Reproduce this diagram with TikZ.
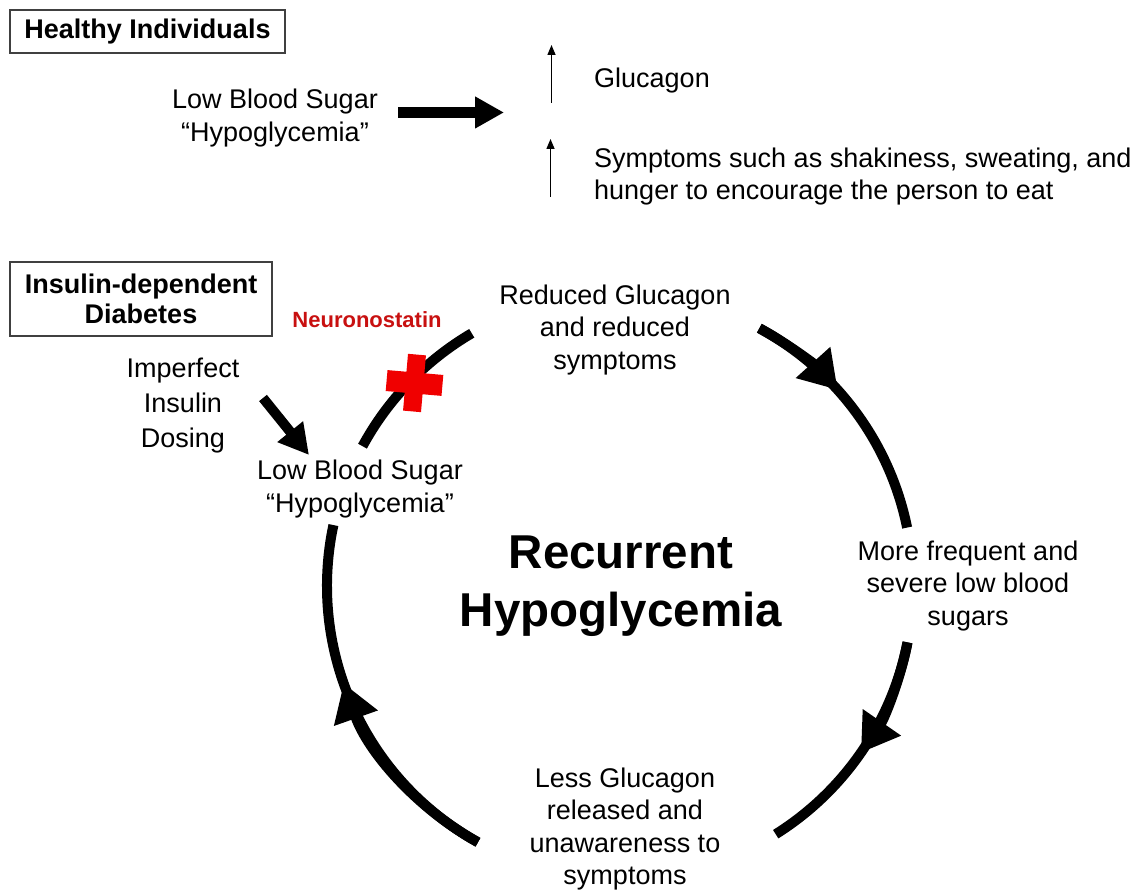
\documentclass[tikz,border=0pt]{standalone}
\usepackage{fontspec}
\setmainfont{Liberation Sans}
\usetikzlibrary{arrows.meta}
\definecolor{neured}{RGB}{200,16,16}
\definecolor{crossred}{RGB}{240,0,0}
\tikzset{
  lbl/.style={align=center, font=\fontsize{27}{32.5}\selectfont, inner sep=0pt},
  lblleft/.style={align=left, font=\fontsize{27}{32}\selectfont, inner sep=0pt},
  hdrbox/.style={draw=black!75, line width=1.5pt, align=center,
     font=\bfseries\fontsize{27}{30.5}\selectfont, inner sep=0pt},
  cycarc/.style={line width=10pt},
  cyctip/.style={-{Triangle[length=37pt,width=44pt]}},
  bigarrow/.style={line width=10.3pt, -{Triangle[length=29pt,width=30pt]}},
  thinarrow/.style={line width=1.4pt, -{Triangle[length=10pt,width=8pt]}},
  dosarrow/.style={line width=10pt, -{Triangle[length=30pt,width=31pt]}}
}
\begin{document}
\begin{tikzpicture}[x=1pt,y=1pt]
\useasboundingbox (0,0) rectangle (1140,890);

% ---------- Healthy individuals ----------
\node[hdrbox, minimum width=275pt, minimum height=43pt] (hbox) at (147.5,858.5) {Healthy Individuals};
\node[lbl] (lbs1) at (275,772) {Low Blood Sugar\\“Hypoglycemia”};
\coordinate (ba1) at (398,777.5);
\coordinate (ba2) at (504,777.5);
\draw[bigarrow] (ba1) -- (ba2);

\coordinate (ga1) at (551.5,787);
\coordinate (ga2) at (551.5,845);
\draw[thinarrow] (ga1) -- (ga2);
\node[lblleft, anchor=west] (gluc) at (594,809) {Glucagon};

\coordinate (sa1) at (550.5,693);
\coordinate (sa2) at (550.5,751);
\draw[thinarrow] (sa1) -- (sa2);
\node[lblleft, anchor=west] (symp) at (594,713) {Symptoms such as shakiness, sweating, and\\hunger to encourage the person to eat};

% ---------- Insulin-dependent diabetes ----------
\node[hdrbox, minimum width=262pt, minimum height=74pt] (ibox) at (141,591) {Insulin-dependent\\Diabetes};
\node[inner sep=0pt, text=neured, font=\bfseries\fontsize{22}{26}\selectfont] (neuro) at (367,570) {Neuronostatin};
\node[lbl, font=\fontsize{27}{35}\selectfont] (imperf) at (183,484) {Imperfect\\Insulin\\Dosing};
\node[lbl] (lbs2) at (360,401) {Low Blood Sugar\\“Hypoglycemia”};
\coordinate (ia1) at (263,492);
\coordinate (ia2) at (309,435);
\draw[dosarrow] (ia1) -- (ia2);

\node[lbl] (reduced) at (615,560) {Reduced Glucagon\\and reduced\\symptoms};
\node[lbl, font=\bfseries\fontsize{47.5}{58}\selectfont] (recur) at (621,304) {Recurrent\\Hypoglycemia};
\node[lbl] (more) at (968,304) {More frequent and\\severe low blood\\sugars};
\node[lbl] (less) at (625,61) {Less Glucagon\\released and\\unawareness to\\symptoms};

% ---------- cycle ----------
\coordinate (C) at (620,304);
\def\R{293}
\draw[cycarc] (C) ++(151.5:\R) arc[start angle=151.5, end angle=120.4, radius=\R];
% top right
\draw[cycarc] (C) ++(61.6:\R) arc[start angle=61.6, end angle=11.5, radius=\R];
\draw[cycarc, cyctip] (C) ++(61.6:\R) arc[start angle=61.6, end angle=42, radius=\R];
% lower right
\draw[cycarc] (C) ++(-11.1:\R) arc[start angle=-11.1, end angle=-57.9, radius=\R];
\draw[cycarc, cyctip] (C) ++(-11.1:\R) arc[start angle=-11.1, end angle=-34.7, radius=\R];
% lower left
\draw[cycarc] (C) ++(241:\R) arc[start angle=241, end angle=168, radius=\R];
\draw[cycarc, cyctip] (C) ++(241:\R) arc[start angle=241, end angle=199.4, radius=\R];

% ---------- red cross ----------
\begin{scope}[shift={(414.5,507)}, rotate=-5]
  \fill[crossred] (-28,-10.5) rectangle (28,10.5);
  \fill[crossred] (-9,-28.5) rectangle (9,28.5);
\end{scope}
\end{tikzpicture}
\end{document}
